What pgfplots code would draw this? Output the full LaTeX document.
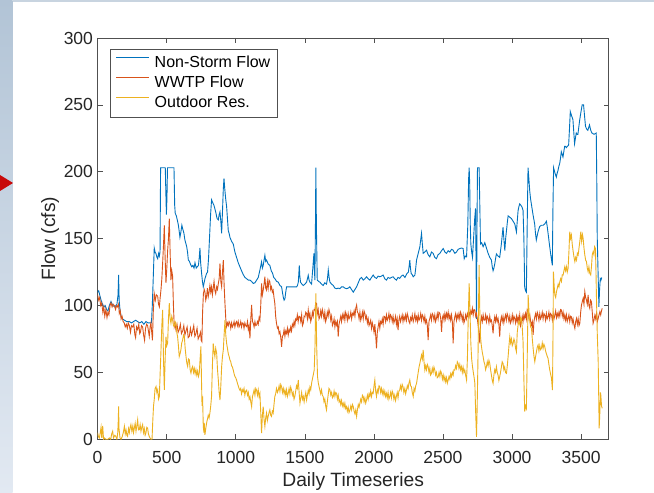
\documentclass[border=0pt]{standalone}
\usepackage{fontspec}
\setmainfont{Liberation Sans}
\usepackage{pgfplots}
\pgfplotsset{compat=1.18}
\definecolor{mblue}{RGB}{0,114,189}
\definecolor{morange}{RGB}{217,83,25}
\definecolor{myellow}{RGB}{237,177,32}
\definecolor{txt}{RGB}{38,38,38}
\definecolor{axc}{RGB}{80,80,80}
\definecolor{striptop}{RGB}{178,196,214}
\definecolor{stripbot}{RGB}{226,233,242}
\definecolor{topline}{RGB}{200,212,224}
\definecolor{tri}{RGB}{200,10,10}
\begin{document}
\begin{tikzpicture}[x=1pt,y=1pt]
\path[use as bounding box] (0,0) rectangle (654,493);
\fill[white] (0,0) rectangle (654,493);
\shade[top color=striptop, bottom color=stripbot] (0,0) rectangle (12.5,493);
\fill[topline] (12.5,491) rectangle (654,493);
\fill[tri] (0,318) -- (13,310) -- (0,302) -- cycle;
\begin{axis}[
  at={(97.6pt,53.7pt)}, anchor=south west,
  scale only axis, width=511.1pt, height=401.3pt,
  xmin=0, xmax=3700, ymin=0, ymax=300,
  xtick={0,500,...,3500}, ytick={0,50,...,300},
  scaled x ticks=false, scaled y ticks=false,
  /pgf/number format/1000 sep={},
  /pgf/number format/assume math mode=true,
  tick align=inside, xtick pos=both, ytick pos=both,
  major tick length=5pt,
  axis line style={draw=axc, line width=0.6pt},
  tick style={draw=axc, line width=0.6pt},
  tick label style={font=\fontsize{17.5}{21}\selectfont, text=txt},
  xticklabel style={anchor=base, yshift=-24pt},
  yticklabel style={anchor=east, xshift=-1.1pt},
  xlabel={Daily Timeseries}, ylabel={Flow (cfs)},
  label style={font=\fontsize{19.25}{23}\selectfont, text=txt},
  xlabel style={at={(axis description cs:0.5,-0.1181)}, anchor=base},
  ylabel style={at={(axis description cs:-0.0833,0.5)}, anchor=base},
  legend cell align=left,
  legend style={at={(axis description cs:0.0243,0.9718)}, anchor=north west,
    draw=axc, line width=0.6pt, fill=white, font=\fontsize{16}{19}\selectfont,
    inner xsep=5.5pt, inner ysep=3.8pt, row sep=0pt, column sep=4pt,
    nodes={inner xsep=1pt, inner ysep=2pt, text height=12.5pt, text depth=3.5pt}},
  legend image code/.code={\draw[#1, draw=., line width=0.9pt] (0pt,5.5pt) -- (33pt,5.5pt);},
  every axis plot/.append style={line width=0.9pt},
]
\addplot[mblue] coordinates {
(0,110) (8,111) (15,108) (25,104) (35,101) (45,99) (55,100) (65,97) (75,96) (85,100) (97,103) (110,100) (125,99) (140,101) (148,108) (152,123) (156,104) (162,97) (170,92) (180,90) (195,89) (210,88) (230,88) (245,87) (260,88) (275,89) (290,88) (305,87) (320,88) (335,86) (350,88) (365,87) (380,87) (390,87) (396,100) (402,118) (410,143) (416,140) (422,139) (430,136) (435,135) (442,139) (447,137) (452,140) (456,203) (490,203) (494,185) (498,168) (502,180) (506,203) (553,203) (558,175) (562,169) (570,167) (577,164) (585,160) (590,156) (596,151) (603,155) (610,160) (617,157) (625,154) (632,149) (640,146) (645,144) (651,140) (657,134) (665,133) (672,131) (681,129) (690,130) (698,128) (705,132) (714,128) (722,129) (730,130) (736,136) (741,143) (746,132) (753,124) (759,118) (765,114) (771,117) (777,120) (783,122) (789,124) (796,125) (803,135) (810,150) (818,168) (825,179) (833,177) (842,175) (850,172) (857,169) (865,165) (874,164) (880,168) (886,170) (892,163) (898,154) (904,170) (910,187) (915,195) (920,188) (927,180) (934,174) (940,165) (946,156) (952,154) (958,151) (970,148) (982,146) (994,140) (1006,136) (1018,132) (1030,129) (1042,126) (1055,123) (1067,121) (1079,120) (1091,119) (1103,119) (1115,118) (1127,116.5) (1139,117) (1151,119) (1163,121) (1175,126.5) (1187,132.6) (1193,128) (1199,130) (1205,134) (1211,137.6) (1217,133) (1223,134) (1235,131) (1247,130) (1257,126) (1267,124) (1275,121) (1284,120) (1296,118) (1308,117.5) (1320,115) (1332,114) (1338,110) (1344,106.4) (1350,104) (1356,105) (1362,110) (1368,114) (1380,114) (1392,114) (1416,114) (1441,114) (1447,115) (1453,117.5) (1457,124) (1460,130) (1464,122) (1469,117.5) (1479,116) (1489,115) (1501,116) (1513,117.5) (1519,120) (1525,122.6) (1531,119) (1537,117.5) (1549,116) (1558,128) (1566,139) (1570,126) (1573,119) (1577,160) (1580,203) (1584,160) (1590,119) (1600,118) (1609,117.5) (1621,116) (1633,115) (1645,117) (1657,116) (1664,120) (1670,126.6) (1676,121) (1682,117.5) (1694,116) (1706,115) (1718,113) (1730,112.6) (1742,113) (1754,112.6) (1766,114) (1778,114) (1790,113) (1802,112.6) (1814,113) (1826,114) (1838,112) (1851,110) (1863,112) (1875,114) (1887,117) (1899,120) (1911,121) (1923,119) (1935,120) (1947,121.5) (1959,120) (1971,119) (1983,121) (1995,122.8) (2007,121) (2019,120.3) (2031,122) (2043,121.5) (2055,122) (2067,122.8) (2079,120) (2091,119) (2103,121) (2115,120.3) (2127,121) (2139,121.5) (2151,120) (2163,119) (2175,121) (2187,120.3) (2199,122) (2211,122.8) (2225,121) (2240,124) (2250,125) (2256,130) (2260,134) (2265,128) (2270,124) (2278,123) (2285,121.5) (2297,122.8) (2303,128) (2309,134) (2321,139) (2333,144) (2339,149) (2345,154) (2351,146) (2357,139) (2369,140) (2381,141.4) (2393,138) (2405,136.4) (2417,140) (2429,139) (2441,136) (2453,135) (2465,138) (2478,139) (2490,141) (2502,142.6) (2514,140) (2526,139) (2538,141) (2550,140) (2562,142) (2574,141.4) (2586,139) (2598,140) (2610,142) (2622,142.6) (2634,143) (2646,142.6) (2650,139) (2654,135) (2662,137) (2671,136.4) (2680,160) (2686,195) (2690,203) (2694,190) (2698,160) (2702,146) (2708,140) (2714,136) (2719,145) (2724,154) (2730,165) (2736,172.6) (2740,130) (2743,90) (2746,150) (2750,203) (2762,203) (2766,180) (2772,146) (2780,147) (2791,144) (2803,147) (2815,143) (2827,139) (2839,136) (2851,134) (2857,129) (2863,126) (2869,128) (2875,131) (2881,135) (2887,138.6) (2899,137) (2911,136) (2923,146) (2935,158.5) (2941,150) (2948,141) (2954,150) (2960,156) (2966,162) (2972,167) (2984,166) (2996,165) (3008,163) (3020,161) (3026,158) (3032,155) (3038,163) (3044,171) (3050,174) (3056,176) (3064,175) (3073,173.5) (3080,171) (3086,150) (3092,113.5) (3098,111) (3104,110) (3110,160) (3116,203) (3122,195) (3128,186) (3134,180) (3140,176) (3152,168) (3164,161) (3170,154) (3176,149) (3188,155) (3200,159) (3212,160) (3225,160) (3237,161) (3249,163) (3255,159) (3261,154) (3267,149) (3273,144) (3282,137) (3292,130) (3296,170) (3301,203) (3311,199) (3321,196) (3327,199) (3333,201) (3339,204) (3345,206) (3351,210) (3357,215) (3363,213) (3369,211) (3375,215) (3381,219) (3387,219) (3393,218) (3401,219) (3410,220) (3416,232) (3422,245) (3431,242) (3441,239) (3447,230) (3453,221) (3459,225) (3465,229) (3471,228) (3477,228) (3483,233) (3489,238) (3498,244) (3508,250) (3518,250) (3525,242) (3532,234) (3540,232) (3549,231) (3555,233) (3561,235) (3570,231) (3578,229) (3594,228) (3610,229) (3614,190) (3617,151) (3623,125) (3629,99) (3634,112) (3639,120) (3644,119) (3650,121)
};
\addlegendentry{Non-Storm Flow}
\addplot[morange] coordinates {
(0,108) (8,104) (15,106) (22,100) (30,102) (38,95) (45,99) (52,92) (60,97) (68,91) (75,95) (82,93) (90,100) (97,102) (105,99) (112,101) (121,100) (130,97) (138,100) (145,99) (152,101) (157,94) (164,96) (170,90) (177,92) (185,88) (193,87) (200,84) (208,86) (215,83) (222,87) (230,85) (238,80) (245,85) (254,84) (262,86) (270,78) (275,76) (282,84) (290,82) (298,86) (305,79) (310,80) (318,85) (326,84) (333,78) (340,74) (347,83) (355,86) (362,85) (368,81) (374,77) (380,84) (386,87) (392,80) (397,74) (403,95) (410,109) (418,104) (425,108) (435,107) (441,101) (447,99) (453,106) (459,112) (465,120) (471,132) (477,145) (483,160) (489,135) (495,117) (501,128) (507,141) (513,150) (519,165) (525,140) (531,119) (537,126) (543,122) (549,100) (555,84) (561,86) (567,82) (575,86) (583,80) (591,82) (599,86) (607,79) (616,81) (624,85) (632,78) (640,81) (648,84) (656,76) (664,77) (672,83) (680,78) (688,81) (696,85) (704,77) (712,79) (720,83) (728,75) (736,77) (745,80) (750,74) (755,73) (760,95) (766,109) (772,112) (777,110.3) (783,104) (789,107) (795,113) (801,106.6) (807,110) (813,115) (819,110) (825,114) (831,108) (837,113) (843,118) (849,111.5) (855,109) (862,114) (868,112) (874,116.5) (880,120) (886,131.5) (892,118) (898,114) (904,125) (910,134) (916,115) (922,101.6) (928,90) (934,84.2) (940,87) (946,85) (952,88) (958,86.7) (964,83) (970,87) (976,84) (982,85.4) (988,88) (994,84) (1000,87) (1006,88) (1012,85) (1018,88) (1024,84) (1030,85.4) (1036,88) (1042,84) (1048,87) (1054,86.7) (1060,83) (1066,87) (1072,85) (1079,84.2) (1085,88) (1091,82) (1097,85) (1103,75.5) (1109,90) (1115,100.4) (1121,88) (1127,86.7) (1133,84) (1139,88) (1145,85) (1151,85.4) (1157,88) (1163,86) (1169,91) (1175,89.1) (1181,100) (1187,116.5) (1193,108) (1199,111.5) (1205,116) (1211,121.5) (1217,113) (1223,111.5) (1229,118) (1235,113) (1241,119) (1247,117.8) (1253,112) (1259,114) (1265,110) (1271,111.5) (1277,106) (1283,101.6) (1289,92) (1295,86.7) (1302,83) (1308,84) (1314,79) (1320,80.4) (1326,76) (1332,69.2) (1338,77) (1344,78) (1350,82) (1356,77) (1362,81) (1368,79.2) (1374,83) (1380,78) (1386,82) (1392,80.4) (1398,84) (1404,81) (1410,86) (1416,84.2) (1422,88) (1428,85) (1434,90) (1440,89.1) (1446,93) (1452,88) (1458,92) (1465,91.6) (1471,88) (1477,93) (1483,85) (1489,86.7) (1495,92) (1501,91.6) (1507,95) (1513,94.1) (1519,90) (1525,96.6) (1531,91) (1537,94) (1543,88) (1549,90.4) (1555,95) (1561,92) (1567,97) (1573,96.6) (1579,102) (1585,101.6) (1591,94) (1597,97) (1603,90) (1609,91.6) (1615,96) (1621,92) (1627,97) (1633,94.1) (1639,90) (1645,95) (1651,88) (1657,90.4) (1663,95) (1669,92) (1675,97) (1682,94.1) (1688,89) (1694,92) (1700,85) (1706,86.7) (1712,90) (1718,84) (1724,88) (1730,85.4) (1736,88) (1742,76.7) (1748,86) (1754,89.1) (1760,92) (1766,88) (1772,93) (1778,90.4) (1784,94) (1790,89) (1796,95) (1802,92.9) (1808,89) (1814,94) (1820,90) (1827,91.6) (1833,95) (1839,90) (1845,94) (1851,92.9) (1857,96) (1863,92) (1869,98) (1875,100.4) (1881,95) (1887,94.1) (1893,90) (1899,95) (1905,89) (1911,91.6) (1917,95) (1923,90) (1929,96) (1935,94.1) (1941,90) (1947,92) (1953,87) (1959,90) (1965,85) (1971,86.7) (1977,89) (1983,83) (1989,87) (1995,84.2) (2001,80) (2007,86) (2013,78) (2019,68) (2025,80) (2031,84.2) (2037,88) (2043,83) (2049,88) (2055,86.7) (2061,90) (2067,86) (2073,92) (2079,91.6) (2085,88) (2091,93) (2097,89) (2103,90.4) (2109,94) (2115,89) (2121,93) (2127,91.6) (2133,88) (2139,92) (2145,87) (2151,89.1) (2157,92) (2163,86) (2169,90) (2175,81.6) (2181,89) (2187,92) (2193,88) (2199,90.4) (2205,93) (2211,88) (2217,92) (2224,89.1) (2230,93) (2236,89) (2242,94) (2248,91.6) (2254,88) (2260,86.7) (2266,91) (2272,89.1) (2278,93) (2285,88) (2291,90.4) (2297,94) (2303,89) (2309,91.6) (2315,88) (2321,93) (2327,89) (2333,90.4) (2339,94) (2345,89) (2351,93) (2357,91.6) (2363,88) (2369,92) (2375,87) (2381,89.1) (2387,85) (2393,74.2) (2399,88) (2405,90.4) (2411,93) (2417,89) (2423,94) (2429,92.9) (2435,89) (2441,93) (2447,88) (2453,90.4) (2459,94) (2465,90) (2471,95) (2478,94.1) (2484,90) (2490,80.4) (2496,91) (2502,92.9) (2508,89) (2514,94) (2520,90) (2526,94.1) (2532,91) (2538,95) (2544,90) (2550,92.9) (2556,89) (2562,93) (2568,88) (2574,71.7) (2580,88) (2586,91.6) (2592,94) (2598,89) (2604,93) (2610,90.4) (2616,94) (2622,90) (2628,95) (2634,92.9) (2640,89) (2646,93) (2652,87) (2658,89.1) (2664,93) (2670,90) (2677,94) (2683,91.6) (2689,95) (2695,92) (2701,96) (2707,94.1) (2713,98) (2719,93) (2725,97) (2731,96.6) (2737,92) (2743,94.1) (2749,90) (2755,85) (2761,80) (2767,71.7) (2773,88) (2779,91.6) (2785,88) (2791,93) (2797,89) (2803,89.1) (2809,93) (2815,88) (2821,92) (2827,90.4) (2833,87) (2839,92) (2845,88) (2851,89.1) (2857,85) (2863,79.2) (2869,88) (2875,91.6) (2881,88) (2887,92) (2893,88) (2899,90.4) (2905,86) (2911,76.7) (2917,88) (2923,91.6) (2929,88) (2935,92) (2941,87) (2947,90.4) (2953,93) (2959,89) (2965,94) (2972,91.6) (2978,88) (2984,92) (2990,87) (2996,89.1) (3002,93) (3008,88) (3014,92) (3020,90.4) (3026,87) (3032,92) (3038,88) (3044,91.6) (3050,88) (3056,93) (3062,85) (3068,87.9) (3074,92) (3080,88) (3086,93) (3092,90.4) (3098,94) (3104,90) (3110,97) (3117,95.4) (3123,90) (3129,93) (3135,88) (3141,85.4) (3147,88) (3153,78) (3159,88) (3165,91.6) (3171,94) (3177,90) (3183,95) (3189,92.9) (3195,89) (3201,94) (3207,90) (3213,91.6) (3219,95) (3225,90) (3231,94) (3237,92.9) (3243,89) (3249,94) (3255,90) (3261,91.6) (3267,95) (3273,90) (3279,94) (3286,92.9) (3292,89) (3298,94) (3304,90) (3310,92.9) (3316,96) (3322,91) (3328,94) (3334,91.6) (3340,95) (3346,92) (3352,97) (3358,96.6) (3364,92) (3370,95) (3376,90) (3382,92.9) (3388,89) (3394,93) (3400,88) (3406,90.4) (3412,93) (3418,88) (3424,92) (3430,91.6) (3436,87) (3442,90) (3448,86) (3455,82.9) (3461,88) (3467,90.4) (3473,86) (3479,90) (3485,85) (3491,86.7) (3497,95) (3503,100.4) (3509,103) (3515,105.4) (3521,101) (3527,110.4) (3533,106) (3539,104.1) (3545,101) (3551,107.9) (3557,100) (3563,97.9) (3569,104) (3575,102.9) (3581,95) (3587,86.7) (3593,89) (3600,92.9) (3606,90) (3612,94) (3618,88) (3624,90.4) (3630,93) (3636,95.4) (3642,93) (3648,96) (3653,97.9)
};
\addlegendentry{WWTP Flow}
\addplot[myellow] coordinates {
(0,5) (6,2) (12,1) (18,4) (25,9) (30,1) (37,10) (43,0) (49,1) (60,0) (75,0) (85,1) (95,0) (102,4) (109,6) (115,1) (125,3) (133,2) (140,0) (146,5) (150,15) (152,24.6) (155,8) (162,1) (170,0) (178,2) (186,5) (194,9.7) (200,4) (206,7) (212,3) (217,2.2) (224,8) (230,5) (236,9) (241,11) (248,6) (255,10) (260,5) (266,8.4) (272,12) (278,6) (284,10) (290,14.6) (296,7) (302,7.2) (308,11) (314,6) (320,9) (326,11) (332,5) (338,8) (344,3) (350,4.7) (356,9) (362,8.4) (368,4) (374,2.2) (380,1) (386,0) (394,0) (400,15) (405,25) (410,29.6) (416,38) (423,39.5) (429,35) (435,37) (441,30) (447,32) (453,50) (459,66.9) (465,85) (471,96.7) (477,60) (483,37) (489,60) (495,76.8) (501,70) (507,71.9) (513,90) (519,101.7) (525,90) (531,86.8) (537,92) (543,89.3) (549,85) (555,84.3) (561,88) (567,86.8) (573,80) (579,76.8) (585,70) (591,61.9) (597,64) (603,66.9) (609,72) (616,74.4) (622,78) (628,76.8) (634,68) (640,61.9) (646,57) (652,54.5) (658,60) (664,59.4) (670,52) (676,49.5) (682,53) (688,54.5) (694,50) (700,53) (706,49) (712,52) (718,48) (724,51) (730,47) (736,49.5) (742,60) (748,69.4) (752,45) (756,25) (760,32) (765,9.6) (770,5) (772,12.2) (777,3.4) (783,8) (789,12.1) (795,15) (801,18) (807,16) (813,19.6) (819,25) (825,32) (831,55) (837,71.7) (843,66) (849,61.8) (855,68) (862,64.3) (868,52) (874,44.3) (880,35) (886,29.4) (892,40) (898,54.3) (904,62) (910,66.8) (916,78) (922,89.1) (928,78) (934,71.7) (940,68) (946,64) (952,62) (958,59.3) (964,58) (970,55) (976,54) (982,51.8) (988,49) (994,47) (1000,46) (1006,44.3) (1012,42) (1018,40) (1024,38) (1030,36.8) (1036,38) (1042,34) (1048,37) (1054,35.6) (1060,38) (1066,33) (1072,36) (1079,36.8) (1085,33) (1091,35) (1097,30) (1103,31.8) (1109,28) (1115,24.4) (1121,32) (1127,34.3) (1133,37) (1139,33) (1145,38) (1151,36.8) (1157,33) (1163,37) (1169,32) (1175,34.3) (1181,20) (1187,4.6) (1193,18) (1199,24.4) (1205,15) (1211,9.6) (1217,16) (1223,19.6) (1229,14) (1235,17.1) (1241,20) (1247,22) (1253,18) (1259,17.1) (1265,21) (1271,19.6) (1277,26) (1283,32) (1289,34) (1295,38) (1302,35) (1308,36.8) (1314,40) (1320,36) (1326,41) (1332,39.3) (1338,35) (1344,38) (1350,34) (1356,36.8) (1362,33) (1368,37) (1374,32) (1380,34.3) (1386,38) (1392,34) (1398,39) (1404,36.8) (1410,33) (1416,35) (1422,30) (1428,32) (1434,36) (1440,40) (1446,38) (1453,44.3) (1459,35) (1465,27) (1471,31) (1477,35) (1483,30) (1489,32) (1495,28) (1501,32) (1507,35) (1513,29.4) (1519,33) (1525,36.8) (1531,34) (1537,39) (1543,37) (1549,41.8) (1555,45) (1561,48) (1568,51.8) (1574,70) (1580,109) (1586,70) (1592,46.8) (1598,42) (1604,39) (1609,36.8) (1615,34) (1621,37) (1627,33) (1633,32) (1639,28) (1645,30) (1651,25) (1657,22) (1663,28) (1669,33) (1675,38) (1682,36.8) (1688,33) (1694,35) (1700,31) (1706,32) (1712,36) (1718,32) (1724,35) (1730,34.3) (1736,30) (1742,33) (1748,28) (1754,29.4) (1760,26) (1766,29) (1772,25) (1778,27) (1784,24) (1790,27) (1796,23) (1802,24.4) (1808,21) (1814,24) (1820,20) (1827,22) (1833,25) (1839,22) (1845,26) (1851,24.4) (1857,21) (1863,19) (1869,22) (1875,17.1) (1881,22) (1887,26) (1893,24) (1899,27) (1905,30) (1911,28) (1917,33) (1923,32) (1929,28) (1935,31) (1941,27) (1947,29.4) (1953,33) (1959,30) (1965,34) (1971,32) (1977,36) (1983,32) (1989,35) (1995,34.3) (2001,40) (2007,44.3) (2013,36) (2019,32) (2025,37) (2031,35) (2037,40) (2043,39.3) (2049,35) (2055,38) (2061,34) (2067,36.8) (2073,33) (2079,36) (2085,32) (2091,34.3) (2097,31) (2103,35) (2109,30) (2115,32) (2121,35) (2127,31) (2133,36) (2139,34.3) (2145,30) (2151,33) (2157,29) (2163,32) (2169,35) (2175,31) (2181,36) (2187,36.8) (2193,40) (2199,37) (2205,41) (2211,39.3) (2217,35) (2224,38) (2230,34) (2236,36.8) (2242,40) (2248,38) (2254,42) (2260,44.3) (2266,40) (2272,39.3) (2278,35) (2285,32) (2291,38) (2297,36) (2303,40) (2309,41.8) (2315,46) (2321,50) (2327,54) (2333,56.8) (2339,60) (2345,63) (2351,60) (2357,66.8) (2363,58) (2369,51.8) (2375,55) (2381,52) (2387,56) (2393,54.3) (2399,50) (2405,53) (2411,48) (2417,49.3) (2423,53) (2429,50) (2435,54) (2441,51.8) (2447,48) (2453,50) (2459,46) (2466,46.8) (2472,50) (2478,47) (2484,51) (2490,49.3) (2496,45) (2502,48) (2508,44) (2514,46.8) (2520,43) (2526,46) (2532,42) (2538,44.3) (2544,47) (2550,45) (2556,49) (2562,46.8) (2568,50) (2574,48) (2580,52) (2586,51.8) (2592,55) (2598,53) (2604,58) (2610,56.8) (2616,53) (2622,56) (2628,52) (2634,54.3) (2640,50) (2646,54) (2652,50) (2658,51.8) (2664,48) (2671,44.3) (2677,60) (2683,90) (2690,116.5) (2696,95) (2702,71.7) (2708,60) (2714,54.3) (2720,50) (2726,46) (2731,41.8) (2737,20) (2743,1.9) (2747,20) (2750,36.8) (2755,70) (2759,110) (2762,130.3) (2766,100) (2772,76.7) (2778,70) (2785,65) (2791,61.8) (2797,58) (2803,56) (2809,52) (2815,54.3) (2821,58) (2827,55) (2833,59) (2839,56.8) (2845,52) (2851,48) (2857,44) (2863,41.8) (2869,48) (2875,52) (2881,50) (2887,54.3) (2893,50) (2899,48) (2905,44) (2911,46.8) (2917,50) (2923,54) (2929,58) (2935,56.8) (2941,52) (2947,54) (2953,50) (2960,49.3) (2966,55) (2972,62) (2978,70) (2984,76.7) (2990,72) (2996,75) (3002,70) (3008,71.7) (3014,75) (3020,73) (3026,68) (3032,65.5) (3038,80) (3044,85.4) (3050,88) (3056,86) (3062,91) (3068,90.4) (3074,84) (3080,73) (3086,45) (3092,20.7) (3098,25) (3104,23.2) (3110,60) (3117,107.9) (3123,95) (3129,87.9) (3135,84) (3141,82.9) (3147,75) (3153,68) (3159,62) (3165,58) (3171,62) (3177,65.5) (3183,69) (3189,70.5) (3195,66) (3201,70) (3207,67) (3213,68) (3219,72) (3225,68) (3231,71) (3237,69.3) (3243,66) (3249,64) (3255,62) (3261,60.5) (3267,56) (3273,52) (3279,49) (3286,45.6) (3290,40) (3293,36.8) (3297,80) (3300,125.3) (3305,115) (3310,107.9) (3316,106) (3322,110.4) (3328,113) (3334,116) (3340,114) (3346,117.8) (3352,120) (3358,118) (3364,123) (3370,122.8) (3376,126) (3382,129) (3388,126) (3394,129) (3400,125) (3406,127.8) (3412,140) (3418,155.2) (3424,150) (3430,152.7) (3436,146) (3443,140.2) (3449,136) (3455,132.8) (3461,136) (3467,134) (3473,139) (3479,137.8) (3485,143) (3491,148) (3498,155.2) (3504,148) (3510,153) (3515,150.2) (3521,143) (3527,137.8) (3533,134) (3539,132.8) (3545,128) (3551,125.3) (3557,129) (3563,124) (3570,122.8) (3576,130) (3581,138) (3587,140.2) (3593,138) (3598,144) (3604,142.7) (3608,125) (3611,107.9) (3617,80) (3624,58) (3628,30) (3631,8.2) (3636,20) (3640,35) (3643,33.1) (3648,25) (3653,23.2)
};
\addlegendentry{Outdoor Res.}
\end{axis}
\end{tikzpicture}
\end{document}
